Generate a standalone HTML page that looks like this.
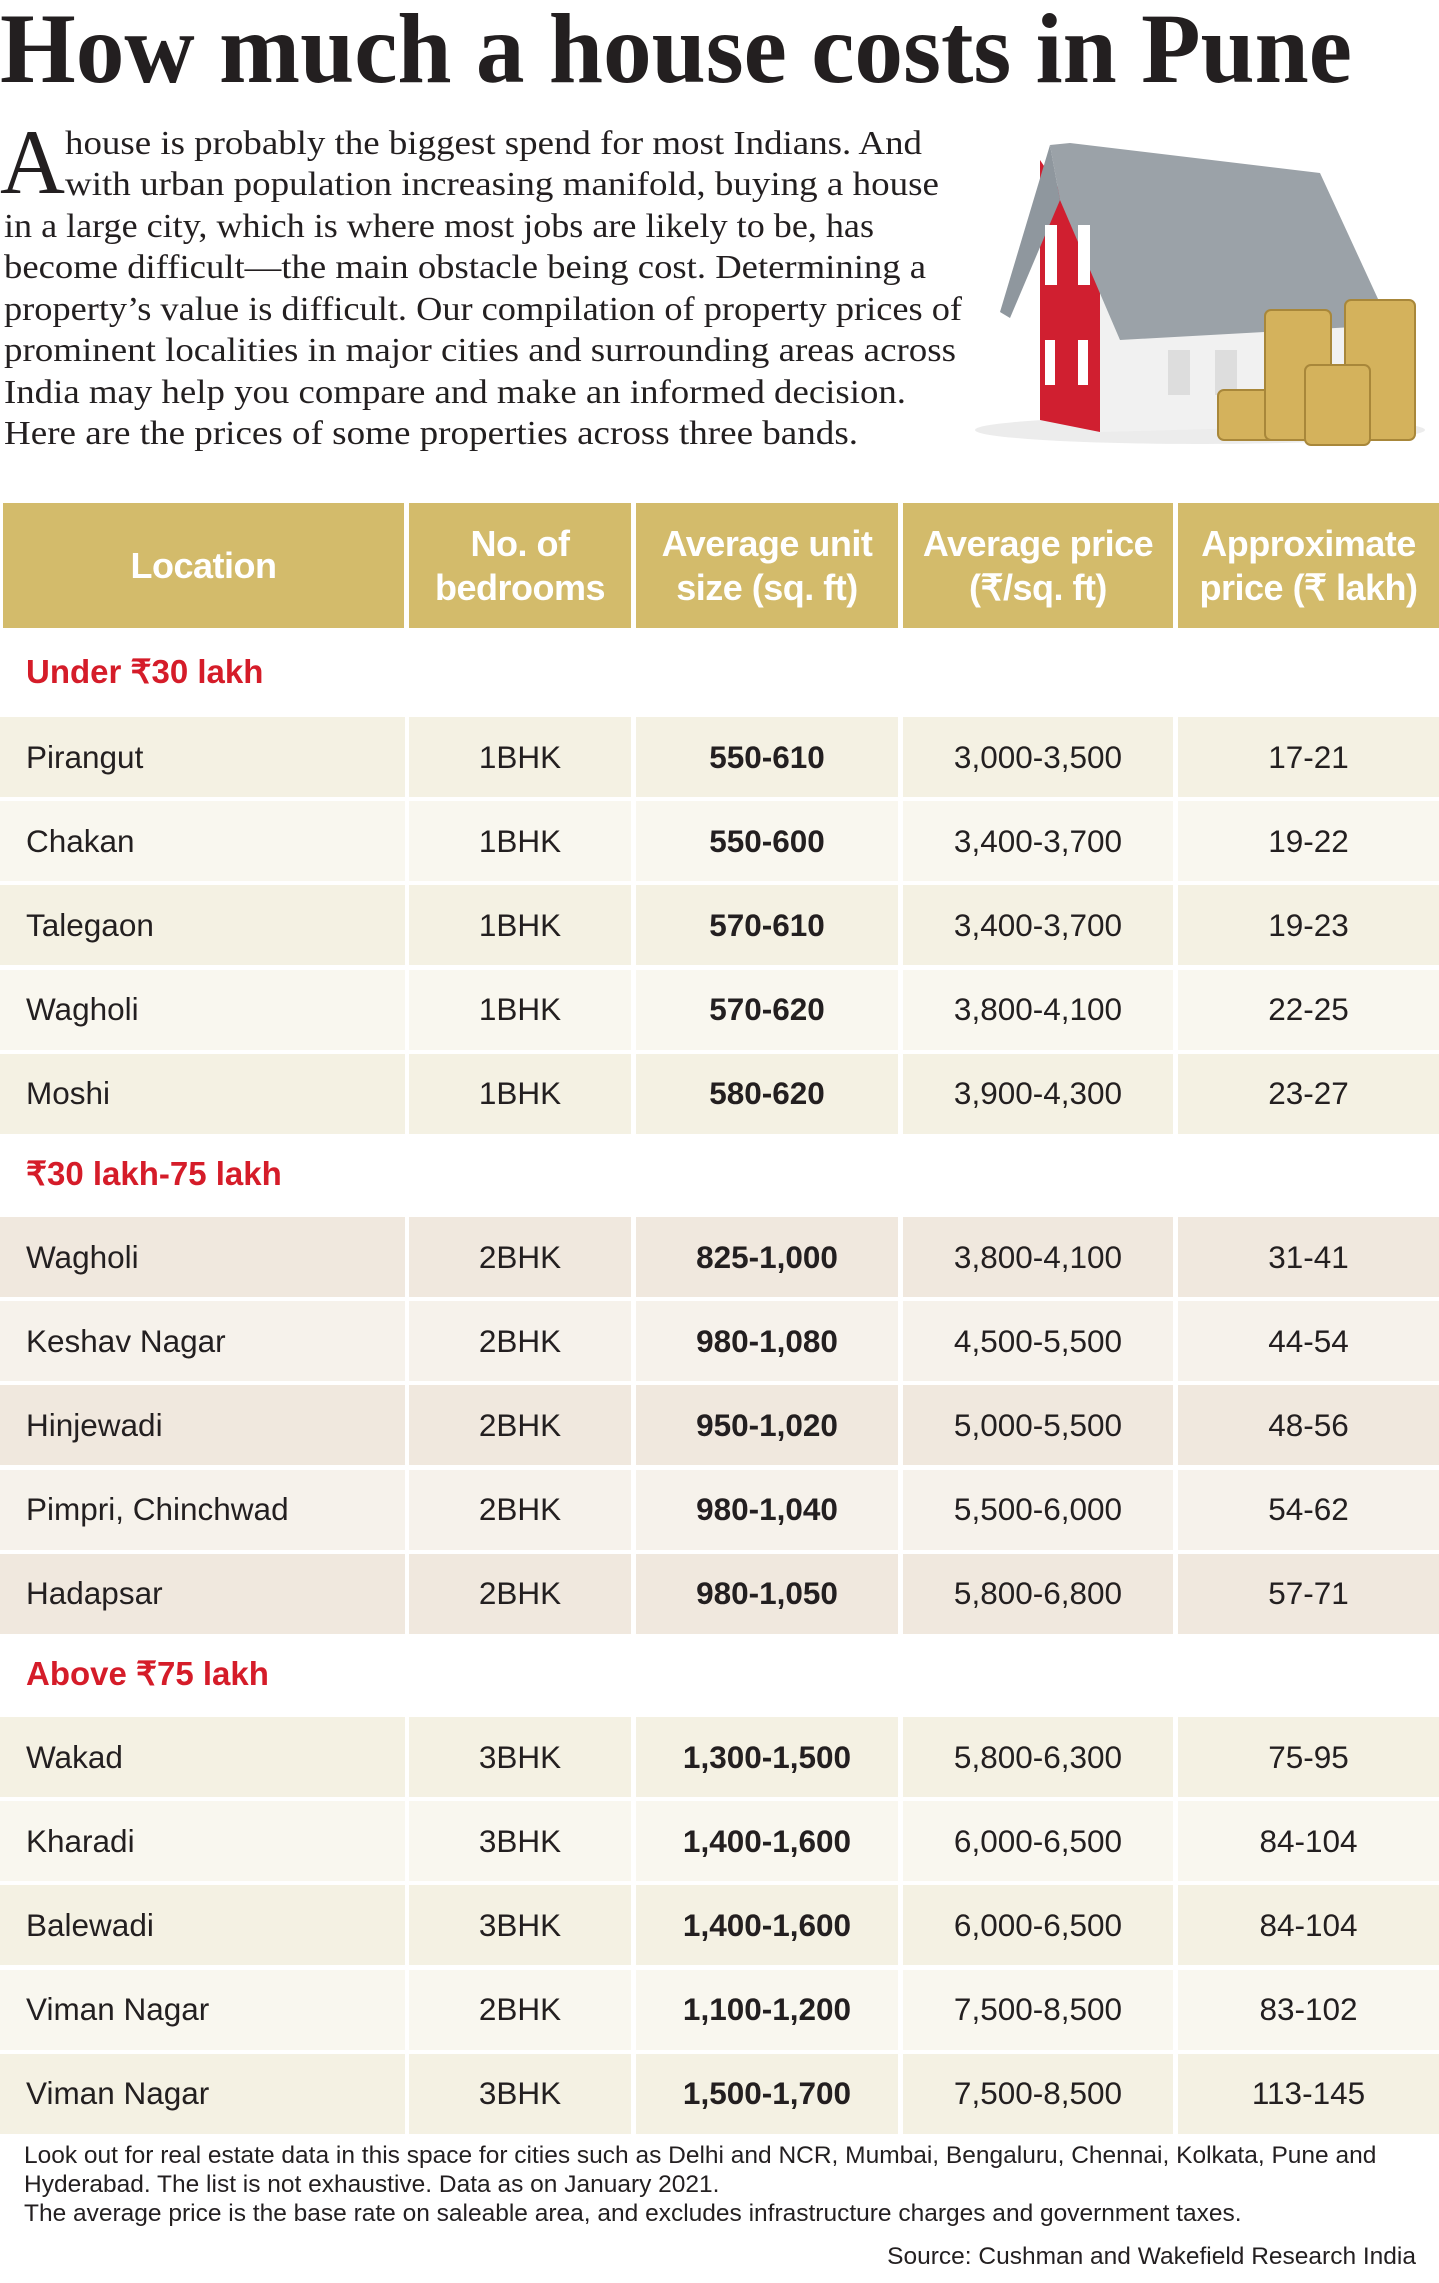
<!DOCTYPE html>
<html><head><meta charset="utf-8"><style>
*{margin:0;padding:0;box-sizing:border-box}
body{width:1439px;height:2283px;position:relative;background:#fff;font-family:"Liberation Sans",sans-serif;color:#231f20;overflow:hidden}
.c{position:absolute;display:flex;align-items:center;justify-content:center;font-size:31.5px}
.h{background:#d3bb6b;color:#fff;font-weight:bold;font-size:36px;text-align:center;line-height:44px;letter-spacing:-0.5px}
.l{justify-content:flex-start;padding-left:26px}
.b{font-weight:bold}
.sec{position:absolute;left:26px;color:#d51c29;font-weight:bold;font-size:33px}
.fn{position:absolute;left:24px;font-size:24.5px;color:#231f20;white-space:nowrap}
</style></head><body>
<svg width="1439" height="460" style="position:absolute;left:0;top:0">
<text x="0" y="82" font-family="Liberation Serif" font-weight="bold" font-size="100" textLength="1352" lengthAdjust="spacingAndGlyphs" fill="#231f20">How much a house costs in Pune</text>
<text x="0" y="193" font-family="Liberation Serif" font-size="92" textLength="65" lengthAdjust="spacingAndGlyphs" fill="#231f20">A</text>
<g font-family="Liberation Serif" font-size="34" fill="#231f20">
<text x="65" y="154" textLength="857" lengthAdjust="spacingAndGlyphs">house is probably the biggest spend for most Indians. And</text>
<text x="65" y="195" textLength="874" lengthAdjust="spacingAndGlyphs">with urban population increasing manifold, buying a house</text>
<text x="4" y="237" textLength="870" lengthAdjust="spacingAndGlyphs">in a large city, which is where most jobs are likely to be, has</text>
<text x="4" y="278" textLength="922" lengthAdjust="spacingAndGlyphs">become difficult—the main obstacle being cost. Determining a</text>
<text x="4" y="320" textLength="958" lengthAdjust="spacingAndGlyphs">property’s value is difficult. Our compilation of property prices of</text>
<text x="4" y="361" textLength="952" lengthAdjust="spacingAndGlyphs">prominent localities in major cities and surrounding areas across</text>
<text x="4" y="403" textLength="902" lengthAdjust="spacingAndGlyphs">India may help you compare and make an informed decision.</text>
<text x="4" y="444" textLength="854" lengthAdjust="spacingAndGlyphs">Here are the prices of some properties across three bands.</text>
</g>
<!-- house -->
<ellipse cx="1200" cy="430" rx="225" ry="14" fill="#ececec"/>
<polygon points="1040,160 1040,420 1100,432 1100,250" fill="#d01f30"/>
<polygon points="1100,250 1100,432 1360,425 1360,330" fill="#f1f1f1"/>
<polygon points="1050,145 1000,312 1010,318 1060,200" fill="#8f979e"/>
<polygon points="1050,145 1070,143 1320,173 1390,325 1120,340 1060,200" fill="#9ba2a8"/>
<rect x="1045" y="225" width="12" height="60" fill="#fff"/><rect x="1078" y="225" width="12" height="60" fill="#fff"/>
<rect x="1045" y="340" width="10" height="45" fill="#fff"/><rect x="1078" y="340" width="10" height="45" fill="#fff"/>
<rect x="1273" y="330" width="28" height="60" fill="#d01f30"/><rect x="1280" y="340" width="15" height="40" fill="#fff"/>
<rect x="1168" y="350" width="22" height="45" fill="#ddd"/><rect x="1215" y="350" width="22" height="45" fill="#ddd"/>
<g fill="#d4b25c" stroke="#a8873a" stroke-width="2">
<rect x="1218" y="390" width="62" height="50" rx="6"/>
<rect x="1265" y="310" width="66" height="130" rx="6"/>
<rect x="1345" y="300" width="70" height="140" rx="6"/>
<rect x="1305" y="365" width="65" height="80" rx="6"/>
</g>
</svg>
<!-- header -->
<div class="c h" style="left:3px;top:503px;width:401px;height:125px">Location</div>
<div class="c h" style="left:409px;top:503px;width:222px;height:125px">No. of<br>bedrooms</div>
<div class="c h" style="left:636px;top:503px;width:262px;height:125px">Average unit<br>size (sq. ft)</div>
<div class="c h" style="left:903px;top:503px;width:270px;height:125px">Average price<br>(₹/sq. ft)</div>
<div class="c h" style="left:1178px;top:503px;width:261px;height:125px">Approximate<br>price (₹ lakh)</div>
<div id="rows"></div>
<div class="sec" style="top:652px">Under ₹30 lakh</div>
<div class="sec" style="top:1154px">₹30 lakh-75 lakh</div>
<div class="sec" style="top:1654px">Above ₹75 lakh</div>
<div class="fn" style="top:2142px">Look out for real estate data in this space for cities such as Delhi and NCR, Mumbai, Bengaluru, Chennai, Kolkata, Pune and</div>
<div class="fn" style="top:2171px">Hyderabad. The list is not exhaustive. Data as on January 2021.</div>
<div class="fn" style="top:2200px">The average price is the base rate on saleable area, and excludes infrastructure charges and government taxes.</div>
<div class="fn" style="top:2243px;left:auto;right:23px">Source: Cushman and Wakefield Research India</div>
<script>
var d=[
[717,["#f4f1e3","#f9f7ef"],[["Pirangut","1BHK","550-610","3,000-3,500","17-21"],["Chakan","1BHK","550-600","3,400-3,700","19-22"],["Talegaon","1BHK","570-610","3,400-3,700","19-23"],["Wagholi","1BHK","570-620","3,800-4,100","22-25"],["Moshi","1BHK","580-620","3,900-4,300","23-27"]]],
[1217,["#f0e8de","#f6f2eb"],[["Wagholi","2BHK","825-1,000","3,800-4,100","31-41"],["Keshav Nagar","2BHK","980-1,080","4,500-5,500","44-54"],["Hinjewadi","2BHK","950-1,020","5,000-5,500","48-56"],["Pimpri, Chinchwad","2BHK","980-1,040","5,500-6,000","54-62"],["Hadapsar","2BHK","980-1,050","5,800-6,800","57-71"]]],
[1717,["#f4f1e3","#f9f7ef"],[["Wakad","3BHK","1,300-1,500","5,800-6,300","75-95"],["Kharadi","3BHK","1,400-1,600","6,000-6,500","84-104"],["Balewadi","3BHK","1,400-1,600","6,000-6,500","84-104"],["Viman Nagar","2BHK","1,100-1,200","7,500-8,500","83-102"],["Viman Nagar","3BHK","1,500-1,700","7,500-8,500","113-145"]]]];
var cols=[[0,405],[409,222],[636,262],[903,270],[1178,261]],h="";
d.forEach(function(s){s[2].forEach(function(r,i){var t=s[0]+i*84.2;r.forEach(function(v,j){h+='<div class="c'+(j==0?' l':'')+(j==2?' b':'')+'" style="left:'+cols[j][0]+'px;top:'+t+'px;width:'+cols[j][1]+'px;height:80px;background:'+s[1][i%2]+'">'+v+'</div>';});});});
document.getElementById("rows").innerHTML=h;
</script>
</body></html>
